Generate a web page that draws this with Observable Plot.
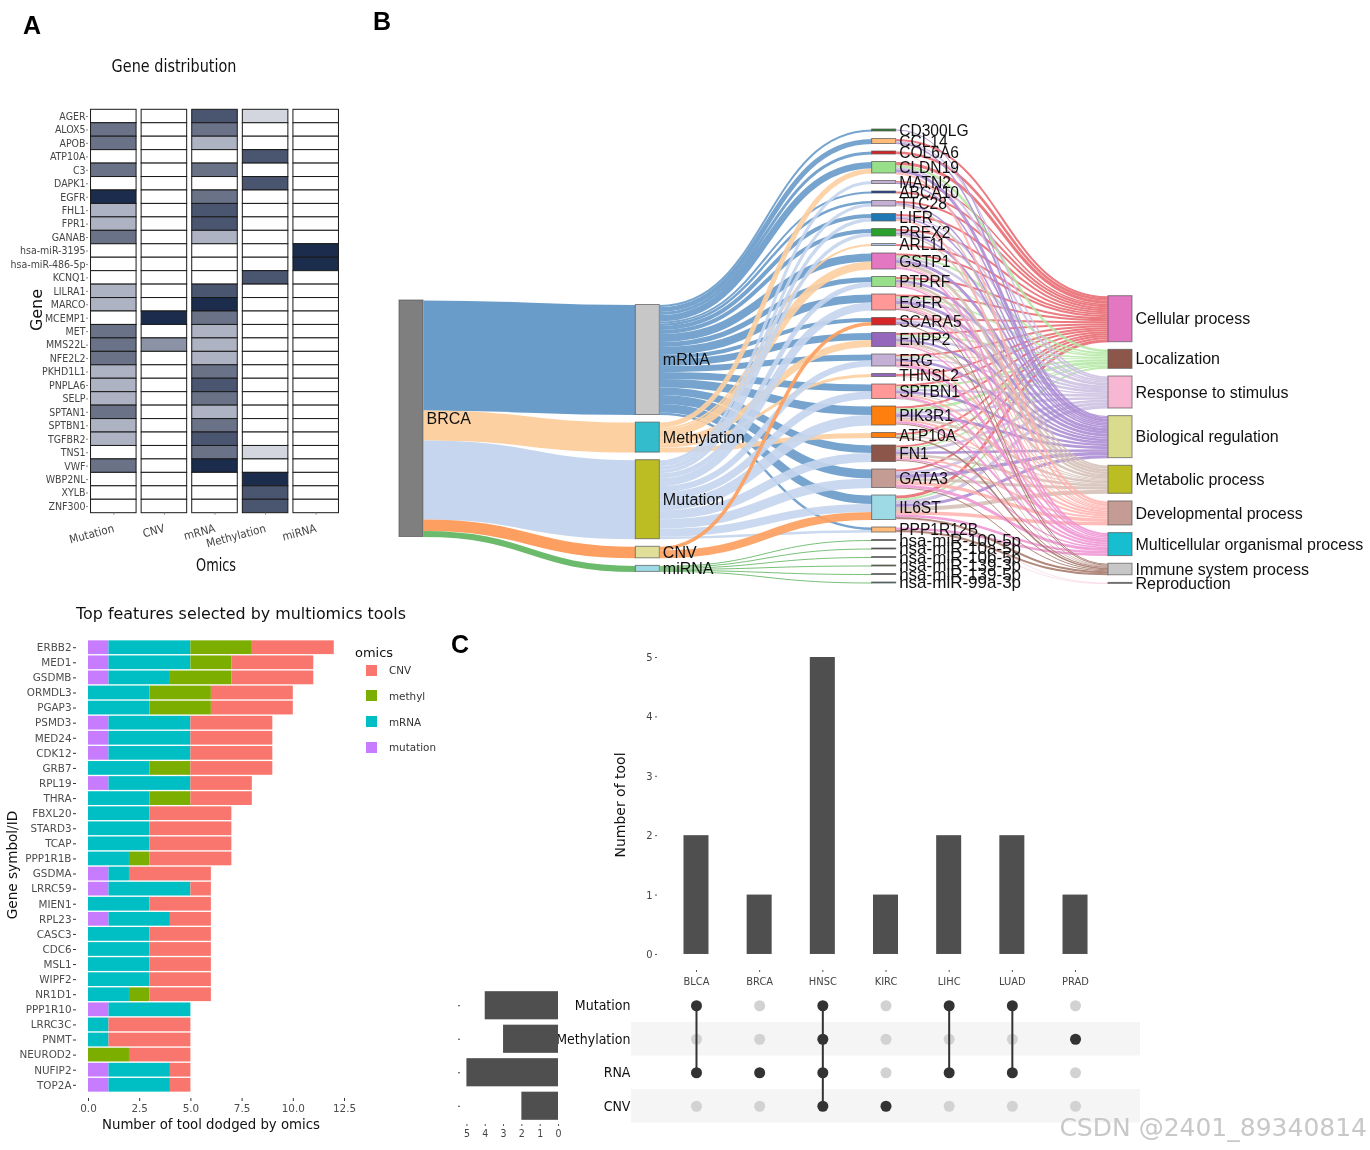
<!DOCTYPE html>
<html><head><meta charset="utf-8">
<script src="https://cdn.jsdelivr.net/npm/d3@7"></script>
<script src="https://cdn.jsdelivr.net/npm/@observablehq/plot@0.6"></script>
<style>
html,body{margin:0;padding:0;background:#fff}
#root{position:relative;width:1370px;height:1150px;overflow:hidden;filter:blur(.35px)}
#root svg{position:absolute;left:0;top:0;max-width:none;background:transparent}
.t{position:absolute;white-space:nowrap;line-height:1}
</style></head><body><div id="root"></div>
<script>
// ---------- Panel A data ----------
const heatGenes=["AGER","ALOX5","APOB","ATP10A","C3","DAPK1","EGFR","FHL1","FPR1","GANAB","hsa-miR-3195","hsa-miR-486-5p","KCNQ1","LILRA1","MARCO","MCEMP1","MET","MMS22L","NFE2L2","PKHD1L1","PNPLA6","SELP","SPTAN1","SPTBN1","TGFBR2","TNS1","VWF","WBP2NL","XYLB","ZNF300"];
const heatOmics=["Mutation","CNV","mRNA","Methylation","miRNA"];
const heatMutation=[0,4,4,0,4,0,6,2,2,4,0,0,0,2,2,0,4,4,4,2,2,2,4,2,2,0,4,0,0,0];
const heatCNV=[0,0,0,0,0,0,0,0,0,0,0,0,0,0,0,6,0,3,0,0,0,0,0,0,0,0,0,0,0,0];
const heatMRNA=[5,4,2,0,4,0,4,5,5,2,0,0,0,5,6,4,2,2,2,4,5,4,2,4,5,4,6,0,0,0];
const heatMethylation=[1,0,0,5,0,5,0,0,0,0,0,0,5,0,0,0,0,0,0,0,0,0,0,0,0,1,0,6,5,5];
const heatMiRNA=[0,0,0,0,0,0,0,0,0,0,6,6,0,0,0,0,0,0,0,0,0,0,0,0,0,0,0,0,0,0];
// ---------- Panel B data ----------
const omicsNodes=["mRNA","Methylation","Mutation","CNV","miRNA"];
const geneNodes=["CD300LG","CCL14","COL6A6","CLDN19","MATN2","ABCA10","TTC28","LIFR","PREX2","ARL11","GSTP1","PTPRF","EGFR","SCARA5","ENPP2","ERG","THNSL2","SPTBN1","PIK3R1","ATP10A","FN1","GATA3","IL6ST","PPP1R12B","hsa-miR-100-5p","hsa-miR-10a-5p","hsa-miR-10b-5p","hsa-miR-139-3p","hsa-miR-139-5p","hsa-miR-99a-3p"];
const processNodes=["Cellular process","Localization","Response to stimulus","Biological regulation","Metabolic process","Developmental process","Multicellular organismal process","Immune system process","Reproduction"];
const flowMRNA=[2,5,3,6.5,0,2,2.5,4,4,0,8,5,8,4,7,6,0,7,8.5,0,7.5,9,8.5,2.5,0,0,0,0,0,0];
const flowMethylation=[0,0,0,5,0,0,0,0,0,2,8,0,0,0,7,0,3,0,0,5,0,0,0,0,0,0,0,0,0,0];
const flowMutation=[0,0,0,0,3,0,3,3.5,3.5,0,0,5,8,0,0,6,0,7.5,10.5,0,9,9.5,8,2.5,0,0,0,0,0,0];
const flowCNV=[0,0,0,0,0,0,0,0,0,0,0,0,0,3.5,0,0,0,0,0,0,0,0,8,0,0,0,0,0,0,0];
const flowMiRNA=[0,0,0,0,0,0,0,0,0,0,0,0,0,0,0,0,0,0,0,0,0,0,0,0,1,1,1,1,1,1];
const toCellular=[0,2,2.5,3,1.5,2,2,2,2,2,2,2,2,2,2,2,2,2,2,2,2,2,3,0];
const toLocalization=[0,0,0,2.5,0,0,0,0,0,0,2,1,1.5,0,1.5,1,0,2,3,1,1.5,0,2,0];
const toResponse=[0,1.5,0,2,0,0,0,1.5,1.5,0,2.5,0,3,2,2.5,1.5,0,2.5,2.5,0,2.5,3,3.5,0];
const toBiological=[1,1.5,0,3,1.5,0,1.5,1.5,2,0,3,2.5,3,2,2.5,2.5,0,2.5,3,0,2.5,3.5,3,0];
const toMetabolic=[0,0,0,0,0,0,1.5,0,1.5,0,3,2.5,2,0,2.5,0,1,1,2.5,1,2.5,3,4,0];
const toDevelopmental=[0,0,.5,2,0,0,0,2,0,0,1,1,1.5,0,1,2,0,2,2,0,2,3.5,3.5,0];
const toMulticellular=[0,0,0,0,0,0,0,0,0,0,2,1.5,1.5,0,1.5,3,0,2,2,0,1.5,3,2.5,2.5];
const toImmune=[0,0,0,0,0,0,0,0,0,0,0,0,1,1,0,.5,0,.5,1,1.5,1,1,2,2];
const toReproduction=[0,0,0,0,0,0,0,0,0,0,0,0,0,0,0,0,0,0,0,0,0,0,.5,.5];
// ---------- Lower-left bars data ----------
const barGenes=["ERBB2","MED1","GSDMB","ORMDL3","PGAP3","PSMD3","MED24","CDK12","GRB7","RPL19","THRA","FBXL20","STARD3","TCAP","PPP1R1B","GSDMA","LRRC59","MIEN1","RPL23","CASC3","CDC6","MSL1","WIPF2","NR1D1","PPP1R10","LRRC3C","PNMT","NEUROD2","NUFIP2","TOP2A"];
const barOmics=["CNV","methyl","mRNA","mutation"];
const toolsMutation=[1,1,1,0,0,1,1,1,0,1,0,0,0,0,0,1,1,0,1,0,0,0,0,0,1,0,0,0,1,1];
const toolsMRNA=[4,4,3,3,3,4,4,4,3,4,3,3,3,3,2,1,4,3,3,3,3,3,3,2,4,1,1,0,3,3];
const toolsMethyl=[3,2,3,3,3,0,0,0,2,0,2,0,0,0,1,0,0,0,0,0,0,0,0,1,0,0,0,2,0,0];
const toolsCNV=[4,4,4,4,4,4,4,4,4,3,3,4,4,4,4,4,1,3,2,3,3,3,3,3,0,4,4,3,1,1];
// ---------- Panel C data ----------
const cancers=["BLCA","BRCA","HNSC","KIRC","LIHC","LUAD","PRAD"];
const cancerCounts=[2,1,5,1,2,2,1];
const setRows=["Mutation","Methylation","RNA","CNV"];
const setSizes=[4,3,5,2];
const memberships=[["Mutation","RNA"],["RNA"],["Mutation","Methylation","RNA","CNV"],["CNV"],["Mutation","RNA"],["Mutation","RNA"],["Methylation"]];

// ---------- helpers ----------
const W=1370,H=1150,root=document.getElementById("root");
const SANS='"Liberation Sans",Arial,sans-serif',DV='"DejaVu Sans",sans-serif',DC='"DejaVu Sans Condensed","DejaVu Sans",sans-serif';
const frame=(x0,x1,y0,y1)=>({width:W,height:H,marginLeft:x0,marginRight:W-x1,marginTop:y0,marginBottom:H-y1});
const mount=o=>{root.append(Plot.plot({...o}))};
function label(s,x,y,size,{family=DV,rotate=0,weight=400,color="#111",anchor="center",sx=1}={}){
  const e=document.createElement("div");e.className="t";e.textContent=s;
  const tx=anchor==="center"?"-50%":anchor==="end"?"-100%":"0";
  Object.assign(e.style,{left:x+"px",top:y+"px",fontSize:size+"px",fontFamily:family,fontWeight:weight,color,
    transform:`translate(${tx},-50%) rotate(${rotate}deg) scaleX(${sx})`});
  root.append(e);return e;
}
// ---------- Panel A ----------
const heatCols=[heatMutation,heatCNV,heatMRNA,heatMethylation,heatMiRNA];
const heatRows=heatOmics.flatMap((o,i)=>heatGenes.map((g,j)=>({omics:o,gene:g,level:heatCols[i][j]})));
mount({...frame(88,341,109.3,512.7),
  style:{fontFamily:DC,fontSize:"10.5px",color:"#444"},
  x:{type:"band",domain:heatOmics,paddingInner:.1,paddingOuter:.05,round:false,label:null},
  y:{type:"band",domain:heatGenes,padding:0,round:false,label:null},
  color:{type:"ordinal",domain:[0,1,2,3,4,5,6],range:["#ffffff","#d3d6de","#aeb3c3","#8c93a6","#6a7288","#4a5570","#1b2c4c"]},
  marks:[
    Plot.cell(heatRows,{x:"omics",y:"gene",fill:"level",stroke:"#1a1a1a",strokeWidth:1}),
    Plot.axisY({tickSize:2,tickPadding:1,label:null,stroke:"#888"}),
    Plot.axisX({tickSize:2,tickRotate:-15,textAnchor:"end",tickPadding:13,fontSize:11.5,label:null,stroke:"#888"})
  ]});
label("A",32,25,25,{family:SANS,weight:700,color:"#000"});
label("B",382,21,25,{family:SANS,weight:700,color:"#000"});
label("C",460,644,25,{family:SANS,weight:700,color:"#000"});
label("Gene distribution",174,66,18,{family:DC,sx:.89});
label("Omics",216,565,17,{family:DC,sx:.84});
label("Gene",37,310,16,{family:DV,rotate:-90});

// ---------- Panel B ----------
const NW=.1016;
const sum=a=>a.reduce((p,c)=>p+(c||0),0);
const omicsFlows=[flowMRNA,flowMethylation,flowMutation,flowCNV,flowMiRNA];
const procFlows=[toCellular,toLocalization,toResponse,toBiological,toMetabolic,toDevelopmental,toMulticellular,toImmune,toReproduction];
const omicsColor=["#c7c7c7","#33bccb","#bcbd22","#dfdf9a","#9edae5"];
const omicsLink=["#6a9cca","#fdd0a2","#c6d6ee","#fd9f60","#6cbb6c"];
const geneColor=["#2e7d32","#ffbb78","#d62728","#98df8a","#c5b0d5","#1f3f8f","#c5b0d5","#1f77b4","#2ca02c","#aec7e8","#e377c2","#98df8a","#ff9896","#d62728","#9467bd","#c5b0d5","#9467bd","#ff9896","#ff7f0e","#ff7f0e","#8c564b","#c49c94","#9edae5","#ffbb78","#666","#555","#777","#6b6b3a","#666","#3f7f7f"];
const procColor=["#e377c2","#8c564b","#f7b6d2","#dbdb8d","#bcbd22","#c49c94","#17becf","#c7c7c7","#7f7f7f"];
const procLink=["#e8696f","#b4e8a4","#cdbfe2","#ab8bd4","#d5bfb6","#ffb3ae","#ee95d4","#a5776a","#f7c0d8"];
function stack(col,values,start,names,colors,gap){let y=start;return values.map((v,i)=>{const n={col,v,y0:y,y1:y+v,name:names[i],color:colors[i]};y+=v+gap;return n})}
const omicsTotals=omicsFlows.map(sum);
const geneIn=geneNodes.map((_,j)=>sum(omicsFlows.map(f=>f[j])));
const procTotals=procFlows.map(sum);
const nBRCA=stack(0,[sum(omicsTotals)],300,["BRCA"],["#7f7f7f"],0);
const nOmics=stack(1,omicsTotals,304.5,omicsNodes,omicsColor,7.6);
const nGene=stack(2,geneIn,129,geneNodes,geneColor,7.5);
const nProc=stack(3,procTotals,295.7,processNodes,procColor,7.65);
const allNodes=[...nBRCA,...nOmics,...nGene,...nProc];
const linkPts=[];let lid=0;
function addLink(c,a,b,w,color,op){const id=lid++;
  linkPts.push({id,x:c+NW,y:a+w/2,w,color,op},{id,x:c+1,y:b+w/2,w,color,op});}
{let y=nBRCA[0].y0;nOmics.forEach((n,i)=>{addLink(0,y,n.y0,n.v,omicsLink[i],1);y+=n.v;});}
{const inOff=nGene.map(n=>n.y0);
 omicsFlows.forEach((f,i)=>{let y=nOmics[i].y0;f.forEach((v,j)=>{if(!v)return;addLink(1,y,inOff[j],v,omicsLink[i],.92);y+=v;inOff[j]+=v;});});}
{const outOff=nGene.map(n=>n.y0);const inP=nProc.map(n=>n.y0);
 procFlows.forEach((f,i)=>{f.forEach((v,j)=>{if(!v)return;addLink(2,outOff[j],inP[i],v,procLink[i],.88);outOff[j]+=v;inP[i]+=v;});});}
mount({...frame(399,1132,0,600),
  style:{fontFamily:SANS,color:"#111"},
  x:{type:"linear",domain:[0,3+NW],axis:null},
  y:{type:"linear",domain:[0,600],range:[0,600],axis:null},
  color:{type:"identity"},
  marks:[
    Plot.line(linkPts,{x:"x",y:"y",z:"id",stroke:"color",strokeWidth:"w",strokeOpacity:"op",strokeLinecap:"butt",curve:"bump-x"}),
    Plot.rect(allNodes,{x1:"col",x2:d=>d.col+NW,y1:"y0",y2:"y1",fill:"color",stroke:"#555",strokeOpacity:.7,strokeWidth:1}),
    Plot.text(allNodes,{x:d=>d.col+NW,y:d=>(d.y0+d.y1)/2,text:"name",textAnchor:"start",dx:3,fontSize:d=>d.col!==2?16:(d.name.startsWith("hsa")?17:15.6),fill:"#111"})
  ]});

// ---------- Lower-left bars ----------
const barRows=[["mutation",toolsMutation],["mRNA",toolsMRNA],["methyl",toolsMethyl],["CNV",toolsCNV]]
  .flatMap(([o,a])=>barGenes.map((g,i)=>({gene:g,omics:o,n:a[i]})));
const barColors=["#F8766D","#7CAE00","#00BFC4","#C77CFF"];
mount({...frame(76,344,639,1098),
  style:{fontFamily:DV,fontSize:"10.4px",color:"#4d4d4d"},
  x:{domain:[0,12.5],range:[88,344],label:null},
  y:{type:"band",domain:barGenes,range:[639,1093],padding:.09,round:false,label:null},
  color:{domain:barOmics,range:barColors},
  marks:[
    Plot.barX(barRows,{x:"n",y:"gene",fill:"omics",order:["mutation","mRNA","methyl","CNV"]}),
    Plot.axisY({tickSize:3,tickPadding:2,label:null,stroke:"#333"}),
    Plot.axisX({ticks:[0,2.5,5,7.5,10,12.5],tickFormat:d=>d.toFixed(1),tickSize:3,tickPadding:3,label:null,stroke:"#333"})
  ]});
label("Top features selected by multiomics tools",241,614,15.9);
label("Number of tool dodged by omics",211,1125,13.3);
label("Gene symbol/ID",13,865,13.6,{rotate:-90});
label("omics",374,652,13);
barOmics.forEach((o,i)=>{
  const s=document.createElement("div");
  Object.assign(s.style,{position:"absolute",left:"366px",top:(664.5+i*25.8)+"px",width:"11px",height:"11px",background:barColors[i]});
  root.append(s);
  label(o,389,670+i*25.8,10.4,{anchor:"start",color:"#333"});
});

// ---------- Panel C ----------
mount({...frame(631,1140,988.5,1122.5),
  style:{fontFamily:DC,fontSize:"14px",color:"#111"},
  x:{domain:[0,1],axis:null},
  y:{type:"band",domain:setRows,padding:0,round:false,label:null},
  marks:[
    Plot.barX(["Methylation","CNV"],{y:d=>d,x1:0,x2:1,fill:"#f5f5f5"}),
    Plot.axisY({tickSize:0,tickPadding:1,label:null})
  ]});
mount({...frame(657,1106.6,657,970),
  style:{fontFamily:DC,fontSize:"11px",color:"#444"},
  x:{type:"band",domain:cancers,range:[664.4,1106.6],paddingInner:.604,paddingOuter:.302,round:false,label:null},
  y:{domain:[-.27,5],label:null},
  marks:[
    Plot.barY(cancers.map((c,i)=>({c,n:cancerCounts[i]})),{x:"c",y1:0,y2:"n",fill:"#4f4f4f"}),
    Plot.axisY({ticks:[0,1,2,3,4,5],tickFormat:d=>d,tickSize:2,tickPadding:3,label:null,stroke:"#555"}),
    Plot.axisX({tickSize:2,tickPadding:5,label:null,stroke:"#555"})
  ]});
label("Number of tool",620,805,14,{rotate:-90});
mount({...frame(460,558,988.5,1124),
  style:{fontFamily:DC,fontSize:"10.5px",color:"#444"},
  x:{domain:[5.35,0],label:null},
  y:{type:"band",domain:setRows,range:[988.5,1122.5],paddingInner:.16,paddingOuter:.08,round:false,label:null},
  marks:[
    Plot.barX(setRows.map((r,i)=>({r,n:setSizes[i]})),{y:"r",x1:0,x2:"n",fill:"#4f4f4f"}),
    Plot.axisY({tickSize:2,tickFormat:()=>"",label:null,stroke:"#444"}),
    Plot.axisX({ticks:[5,4,3,2,1,0],tickFormat:d=>d,tickSize:2,tickPadding:3,label:null,stroke:"#555"})
  ]});
const matrix=cancers.flatMap((c,i)=>setRows.map(r=>({c,r,on:memberships[i].includes(r)})));
mount({...frame(664.4,1106.6,988.5,1122.5),
  x:{type:"point",domain:cancers,padding:.5,round:false,axis:null},
  y:{type:"point",domain:setRows,padding:.5,round:false,axis:null},
  marks:[
    Plot.dot(matrix.filter(d=>!d.on),{x:"c",y:"r",r:5.5,fill:"#d2d2d2"}),
    Plot.line(matrix.filter(d=>d.on),{x:"c",y:"r",z:"c",stroke:"#333",strokeWidth:2}),
    Plot.dot(matrix.filter(d=>d.on),{x:"c",y:"r",r:5.5,fill:"#333"})
  ]});
label("CSDN @2401_89340814",1367,1127,25,{anchor:"end",family:DV,color:"#c8c8c8"});
</script></body></html>
